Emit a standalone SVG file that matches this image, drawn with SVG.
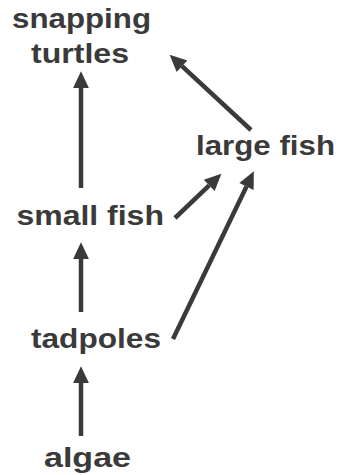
<svg xmlns="http://www.w3.org/2000/svg" width="339" height="475" viewBox="0 0 339 475">
<style>
text{font-family:"Liberation Sans",Arial,sans-serif;font-weight:bold;font-size:28.5px;fill:#3a3a3a;text-anchor:middle}
.c line{stroke:#3a3a3a;stroke-width:4.5;marker-end:url(#ah)}
</style>
<defs>
<marker id="ah" markerUnits="userSpaceOnUse" markerWidth="20" markerHeight="20" refX="0" refY="0" viewBox="-1 -9 19 18" orient="auto" overflow="visible">
<path d="M0,-7.5 L16,0 L0,7.5 z" fill="#3a3a3a"/>
</marker>
</defs>
<rect width="339" height="475" fill="#ffffff"/>
<g id="snapping-turtles">
<text x="81.5" y="28" textLength="139" lengthAdjust="spacingAndGlyphs">snapping</text>
<text x="80" y="63" textLength="98" lengthAdjust="spacingAndGlyphs">turtles</text>
</g>
<g id="large-fish"><text x="265.5" y="155" textLength="139" lengthAdjust="spacingAndGlyphs">large fish</text></g>
<g id="small-fish"><text x="90.2" y="225" textLength="147.5" lengthAdjust="spacingAndGlyphs">small fish</text></g>
<g id="tadpoles"><text x="96" y="348" textLength="130" lengthAdjust="spacingAndGlyphs">tadpoles</text></g>
<g id="algae"><text x="87.5" y="466.5" textLength="87" lengthAdjust="spacingAndGlyphs">algae</text></g>
<g class="c" id="connectors">
<line x1="81" y1="188" x2="81" y2="88"/>
<line x1="175" y1="218" x2="209.2" y2="185.4"/>
<line x1="173" y1="339" x2="246.5" y2="186.5"/>
<line x1="251" y1="130" x2="182" y2="66.2"/>
<line x1="81" y1="312" x2="81" y2="259"/>
<line x1="81" y1="436" x2="81" y2="383"/>
</g>
</svg>
